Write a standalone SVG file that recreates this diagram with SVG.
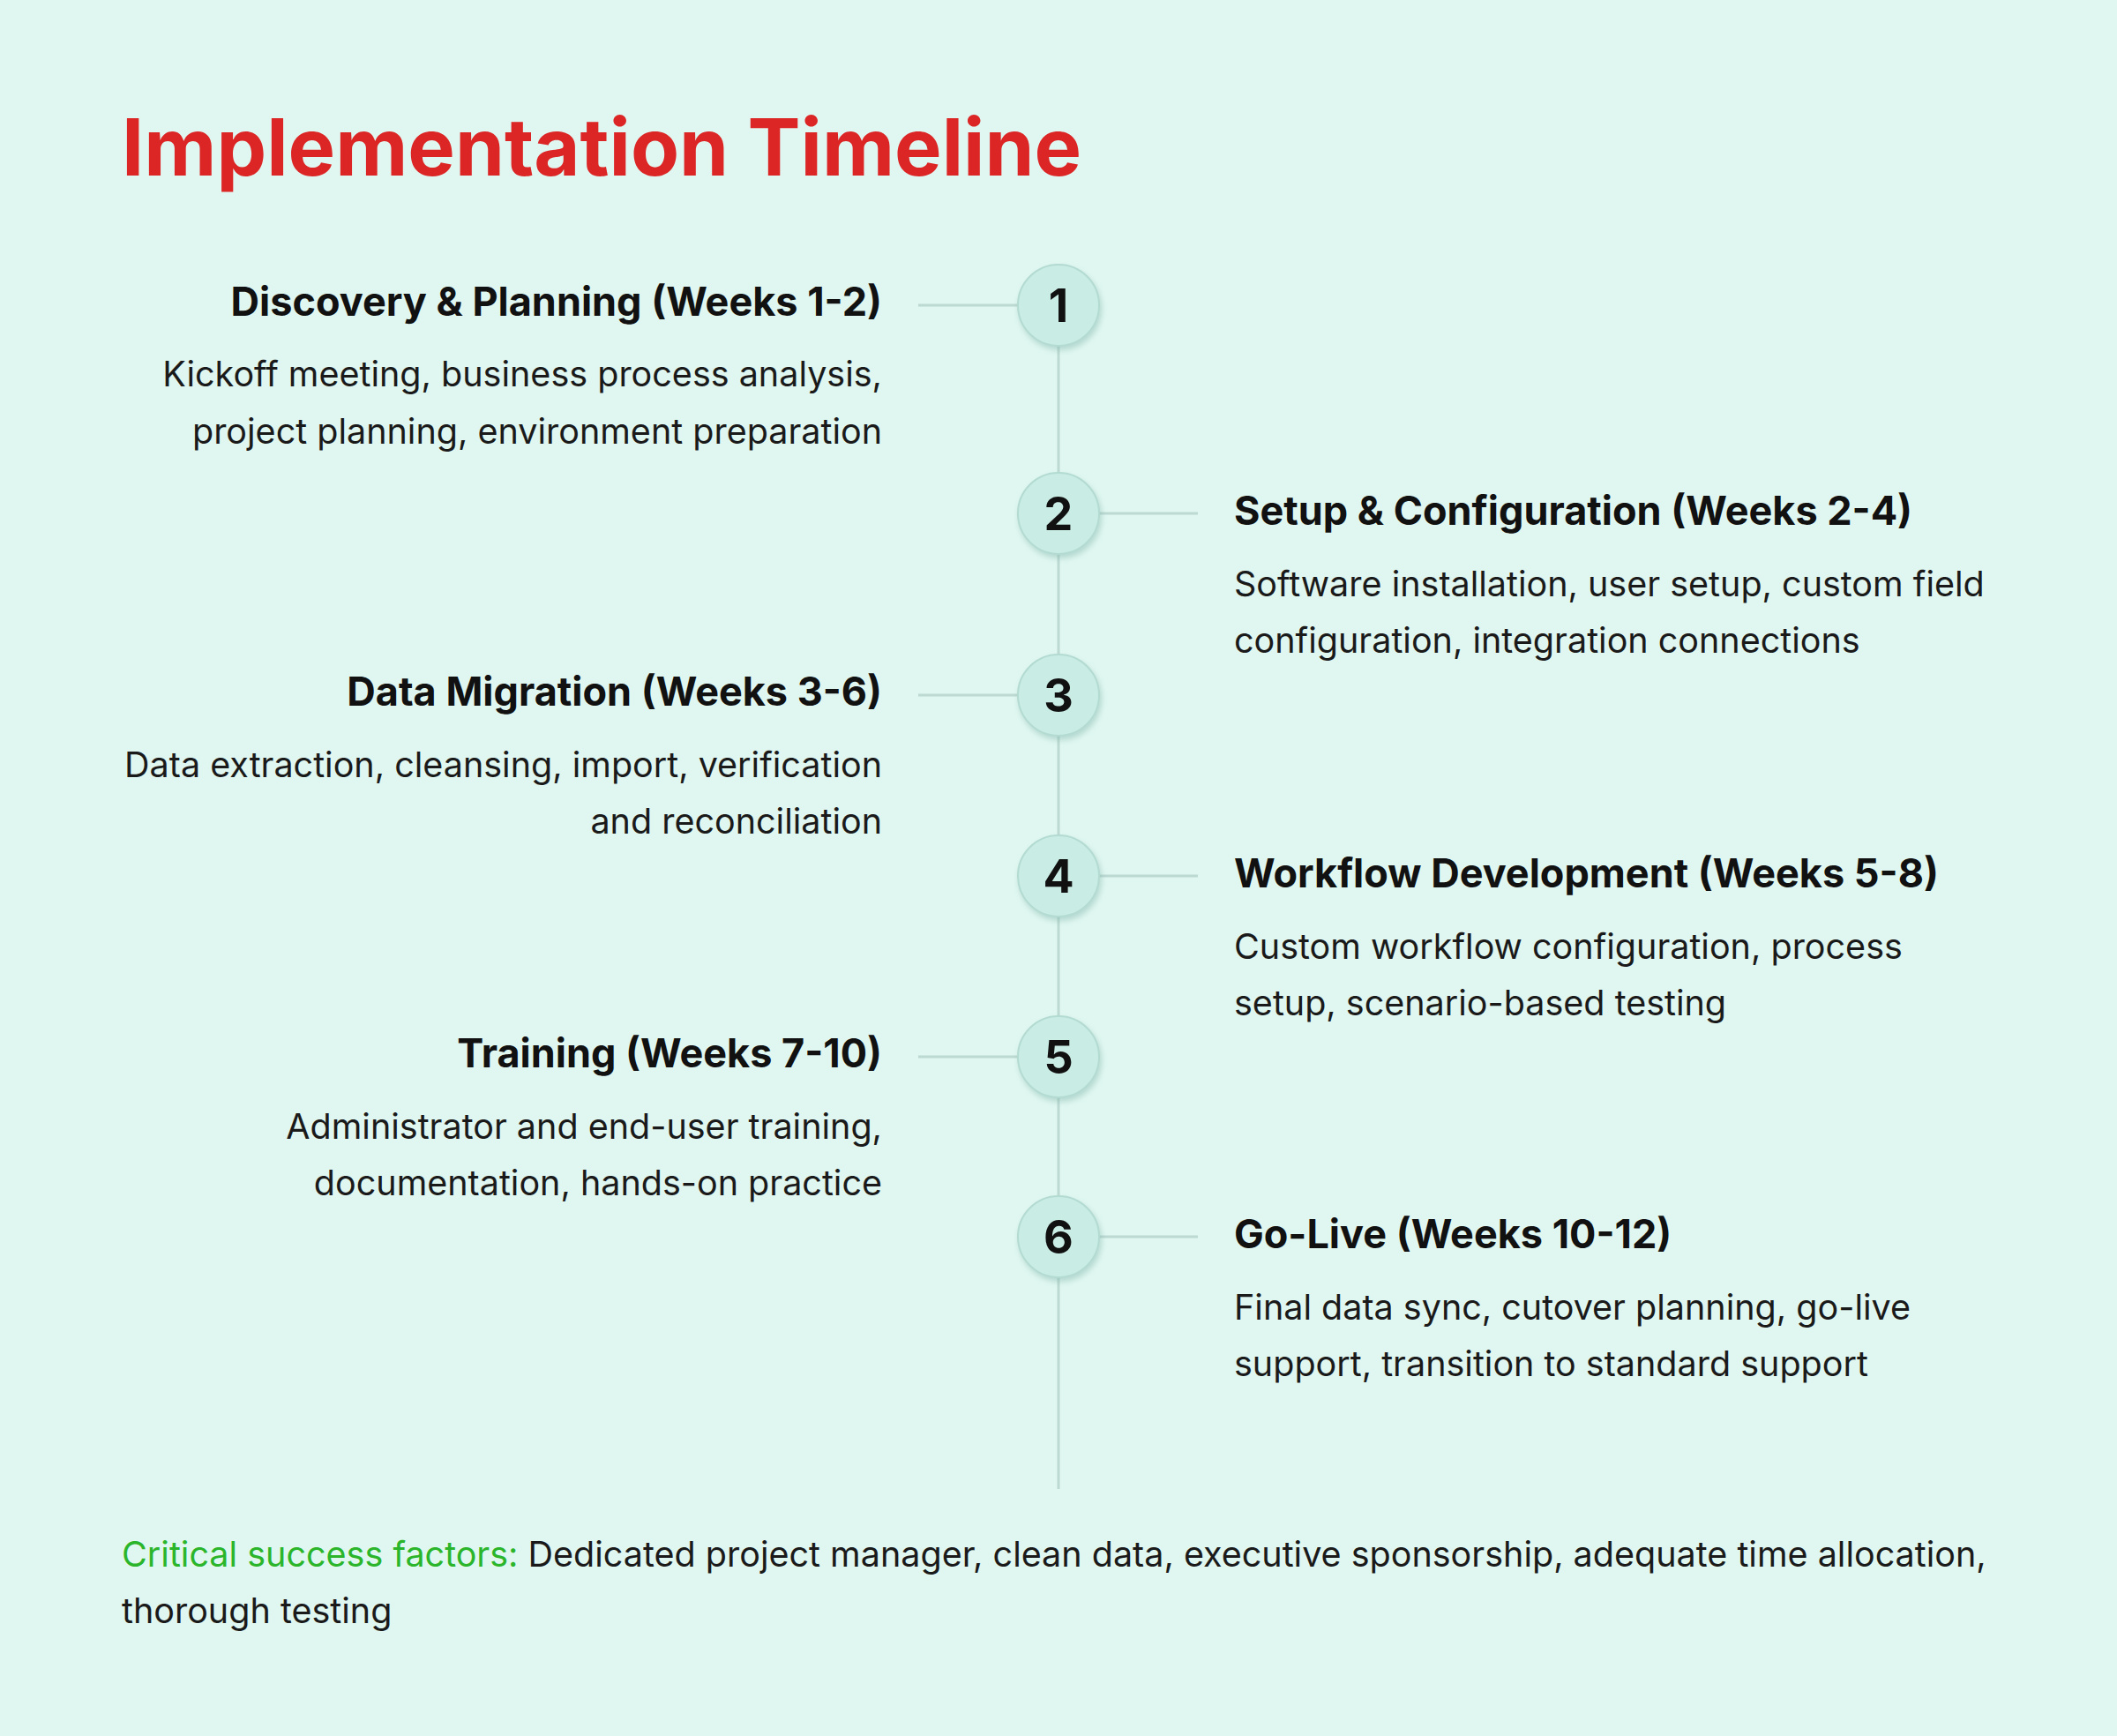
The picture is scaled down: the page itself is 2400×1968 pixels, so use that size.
<svg xmlns="http://www.w3.org/2000/svg" width="2400" height="1968" viewBox="0 0 2400 1968">
  <defs>
    <filter id="sh" x="-30%" y="-30%" width="160%" height="160%">
      <feDropShadow dx="2" dy="4" stdDeviation="3" flood-color="#7fb5a8" flood-opacity="0.45"/>
    </filter>
  </defs>
  <style>
    .title{font-family:Inter,"Liberation Sans",sans-serif;font-weight:700;font-size:90px;fill:#dc2626;}
    .h{font-family:Inter,"Liberation Sans",sans-serif;font-weight:700;font-size:45px;fill:#111111;}
    .d{font-family:Inter,"Liberation Sans",sans-serif;font-weight:400;font-size:39.5px;fill:#1a1a1a;}
    .l{text-anchor:end;}
    .num{font-family:Inter,"Liberation Sans",sans-serif;font-weight:700;font-size:52px;fill:#111111;text-anchor:middle;}
    .c{fill:#c9ede4;stroke:#b3dbd1;stroke-width:2;filter:url(#sh);}
    .ln{stroke:#bcd9d2;stroke-width:3;fill:none;}
    .f{font-family:Inter,"Liberation Sans",sans-serif;font-weight:400;font-size:39.5px;fill:#1a1a1a;}
    .g{fill:#2bb52b;}
  </style>
  <rect width="2400" height="1968" fill="#e0f7f1"/>
  <text class="title" x="138" y="199">Implementation Timeline</text>

  <g id="connectors">
    <line class="ln" x1="1200" y1="346" x2="1200" y2="1688"/>
    <line class="ln" x1="1041" y1="346" x2="1154" y2="346"/>
    <line class="ln" x1="1246" y1="582" x2="1358" y2="582"/>
    <line class="ln" x1="1041" y1="788" x2="1154" y2="788"/>
    <line class="ln" x1="1246" y1="993" x2="1358" y2="993"/>
    <line class="ln" x1="1041" y1="1198" x2="1154" y2="1198"/>
    <line class="ln" x1="1246" y1="1402" x2="1358" y2="1402"/>
  </g>

  <g id="step1">
    <circle class="c" cx="1200" cy="346" r="46"/>
    <text class="num" x="1200" y="365">1</text>
    <text class="h l" x="1000" y="358">Discovery &amp; Planning (Weeks 1-2)</text>
    <text class="d l" x="1000" y="438">Kickoff meeting, business process analysis,</text>
    <text class="d l" x="1000" y="503">project planning, environment preparation</text>
  </g>
  <g id="step2">
    <circle class="c" cx="1200" cy="582" r="46"/>
    <text class="num" x="1200" y="601">2</text>
    <text class="h" x="1399" y="595">Setup &amp; Configuration (Weeks 2-4)</text>
    <text class="d" x="1399" y="676">Software installation, user setup, custom field</text>
    <text class="d" x="1399" y="740">configuration, integration connections</text>
  </g>
  <g id="step3">
    <circle class="c" cx="1200" cy="788" r="46"/>
    <text class="num" x="1200" y="807">3</text>
    <text class="h l" x="1000" y="800">Data Migration (Weeks 3-6)</text>
    <text class="d l" x="1000" y="881">Data extraction, cleansing, import, verification</text>
    <text class="d l" x="1000" y="945">and reconciliation</text>
  </g>
  <g id="step4">
    <circle class="c" cx="1200" cy="993" r="46"/>
    <text class="num" x="1200" y="1012">4</text>
    <text class="h" x="1399" y="1006">Workflow Development (Weeks 5-8)</text>
    <text class="d" x="1399" y="1087">Custom workflow configuration, process</text>
    <text class="d" x="1399" y="1151">setup, scenario-based testing</text>
  </g>
  <g id="step5">
    <circle class="c" cx="1200" cy="1198" r="46"/>
    <text class="num" x="1200" y="1217">5</text>
    <text class="h l" x="1000" y="1210">Training (Weeks 7-10)</text>
    <text class="d l" x="1000" y="1291">Administrator and end-user training,</text>
    <text class="d l" x="1000" y="1355">documentation, hands-on practice</text>
  </g>
  <g id="step6">
    <circle class="c" cx="1200" cy="1402" r="46"/>
    <text class="num" x="1200" y="1421">6</text>
    <text class="h" x="1399" y="1415">Go-Live (Weeks 10-12)</text>
    <text class="d" x="1399" y="1496">Final data sync, cutover planning, go-live</text>
    <text class="d" x="1399" y="1560">support, transition to standard support</text>
  </g>

  <g id="footer">
    <text class="f" x="138" y="1776"><tspan class="g">Critical success factors:</tspan> Dedicated project manager, clean data, executive sponsorship, adequate time allocation,</text>
    <text class="f" x="138" y="1840">thorough testing</text>
  </g>
</svg>
